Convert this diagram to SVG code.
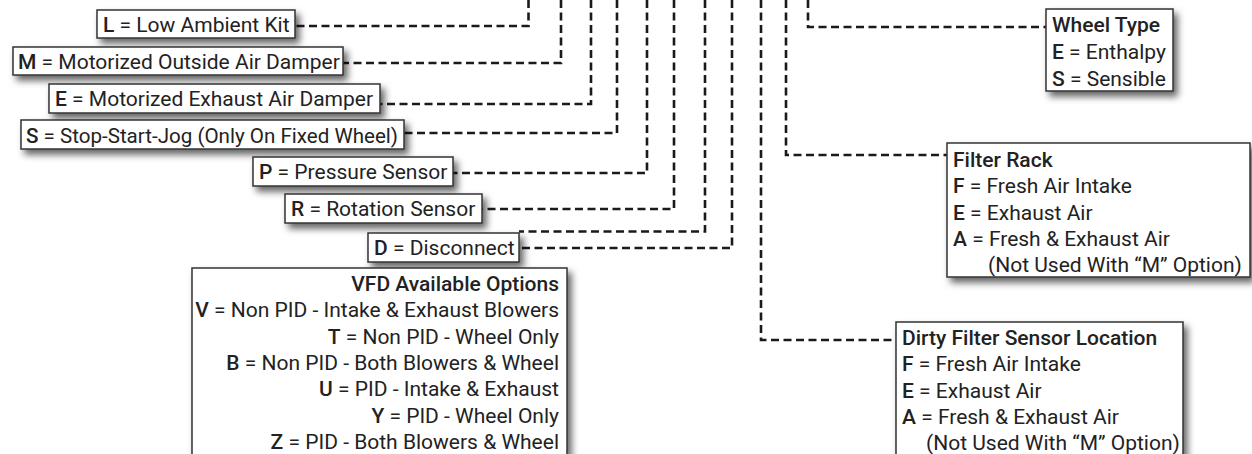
<svg xmlns="http://www.w3.org/2000/svg" width="1252" height="454" viewBox="0 0 1252 454">
<defs>
<filter id="sh" x="-20%" y="-40%" width="150%" height="200%">
<feDropShadow dx="4" dy="5" stdDeviation="3.5" flood-color="#000" flood-opacity="0.6"/>
</filter>
<style>
.box{fill:#fff;stroke:#333;stroke-width:1.5;filter:url(#sh)}
.t{font-family:Roboto,"Liberation Sans",sans-serif;font-size:21px;fill:#222}
.b{font-weight:500}
.end{text-anchor:end}
.c{fill:none;stroke:#1a1a1a;stroke-width:2.6;stroke-dasharray:8 4.5}
</style>
</defs>
<g id="connectors">
<path class="c" d="M528.5,0 V26 H295"/>
<path class="c" d="M561,0 V63 H343"/>
<path class="c" d="M591,0 V104 H380"/>
<path class="c" d="M617,0 V133 H404"/>
<path class="c" d="M647,0 V173 H453"/>
<path class="c" d="M674,0 V209 H482"/>
<path class="c" d="M705,0 V231.5 H519"/>
<path class="c" d="M732,0 V248 H519"/>
<path class="c" d="M761,0 V340 H896"/>
<path class="c" d="M786,0 V155 H947"/>
<path class="c" d="M808,0 V27 H1046"/>
</g>
<g id="opt-L">
<rect class="box" x="97" y="10" width="198" height="28"/>
<text class="t" x="103" y="32"><tspan class="b">L</tspan> = Low Ambient Kit</text>
</g>
<g id="opt-M">
<rect class="box" x="13" y="47" width="330" height="28"/>
<text class="t" x="18" y="68.5"><tspan class="b">M</tspan> = Motorized Outside Air Damper</text>
</g>
<g id="opt-E">
<rect class="box" x="49" y="84" width="331" height="29"/>
<text class="t" x="55" y="105.5"><tspan class="b">E</tspan> = Motorized Exhaust Air Damper</text>
</g>
<g id="opt-S">
<rect class="box" x="21" y="120" width="383" height="29"/>
<text class="t" x="26" y="142.5" textLength="372" lengthAdjust="spacingAndGlyphs"><tspan class="b">S</tspan> = Stop-Start-Jog (Only On Fixed Wheel)</text>
</g>
<g id="opt-P">
<rect class="box" x="253" y="157" width="200" height="29"/>
<text class="t" x="259" y="179"><tspan class="b">P</tspan> = Pressure Sensor</text>
</g>
<g id="opt-R">
<rect class="box" x="285" y="194" width="197" height="29"/>
<text class="t" x="291" y="216"><tspan class="b">R</tspan> = Rotation Sensor</text>
</g>
<g id="opt-D">
<rect class="box" x="368" y="233" width="151" height="29"/>
<text class="t" x="374" y="254.5"><tspan class="b">D</tspan> = Disconnect</text>
</g>
<g id="vfd">
<rect class="box" x="192" y="268" width="375" height="200"/>
<text class="t b end" x="559" y="291">VFD Available Options</text>
<text class="t end" x="559" y="317.3"><tspan class="b">V</tspan> = Non PID - Intake &amp; Exhaust Blowers</text>
<text class="t end" x="559" y="343.6"><tspan class="b">T</tspan> = Non PID - Wheel Only</text>
<text class="t end" x="559" y="369.9"><tspan class="b">B</tspan> = Non PID - Both Blowers &amp; Wheel</text>
<text class="t end" x="559" y="396.2"><tspan class="b">U</tspan> = PID - Intake &amp; Exhaust</text>
<text class="t end" x="559" y="422.5"><tspan class="b">Y</tspan> = PID - Wheel Only</text>
<text class="t end" x="559" y="448.8"><tspan class="b">Z</tspan> = PID - Both Blowers &amp; Wheel</text>
</g>
<g id="wheel-type">
<rect class="box" x="1046" y="9" width="127" height="82"/>
<text class="t b" x="1052" y="32">Wheel Type</text>
<text class="t" x="1052" y="59"><tspan class="b">E</tspan> = Enthalpy</text>
<text class="t" x="1052" y="86"><tspan class="b">S</tspan> = Sensible</text>
</g>
<g id="filter-rack">
<rect class="box" x="947" y="143" width="303" height="134"/>
<text class="t b" x="953" y="167">Filter Rack</text>
<text class="t" x="953" y="193"><tspan class="b">F</tspan> = Fresh Air Intake</text>
<text class="t" x="953" y="220"><tspan class="b">E</tspan> = Exhaust Air</text>
<text class="t" x="953" y="246"><tspan class="b">A</tspan> = Fresh &amp; Exhaust Air</text>
<text class="t" x="988" y="272">(Not Used With “M” Option)</text>
</g>
<g id="dirty-filter">
<rect class="box" x="896" y="322" width="287" height="150"/>
<text class="t b" x="902" y="345">Dirty Filter Sensor Location</text>
<text class="t" x="902" y="371.3"><tspan class="b">F</tspan> = Fresh Air Intake</text>
<text class="t" x="902" y="397.6"><tspan class="b">E</tspan> = Exhaust Air</text>
<text class="t" x="902" y="424"><tspan class="b">A</tspan> = Fresh &amp; Exhaust Air</text>
<text class="t" x="926" y="450.2">(Not Used With “M” Option)</text>
</g>
</svg>
